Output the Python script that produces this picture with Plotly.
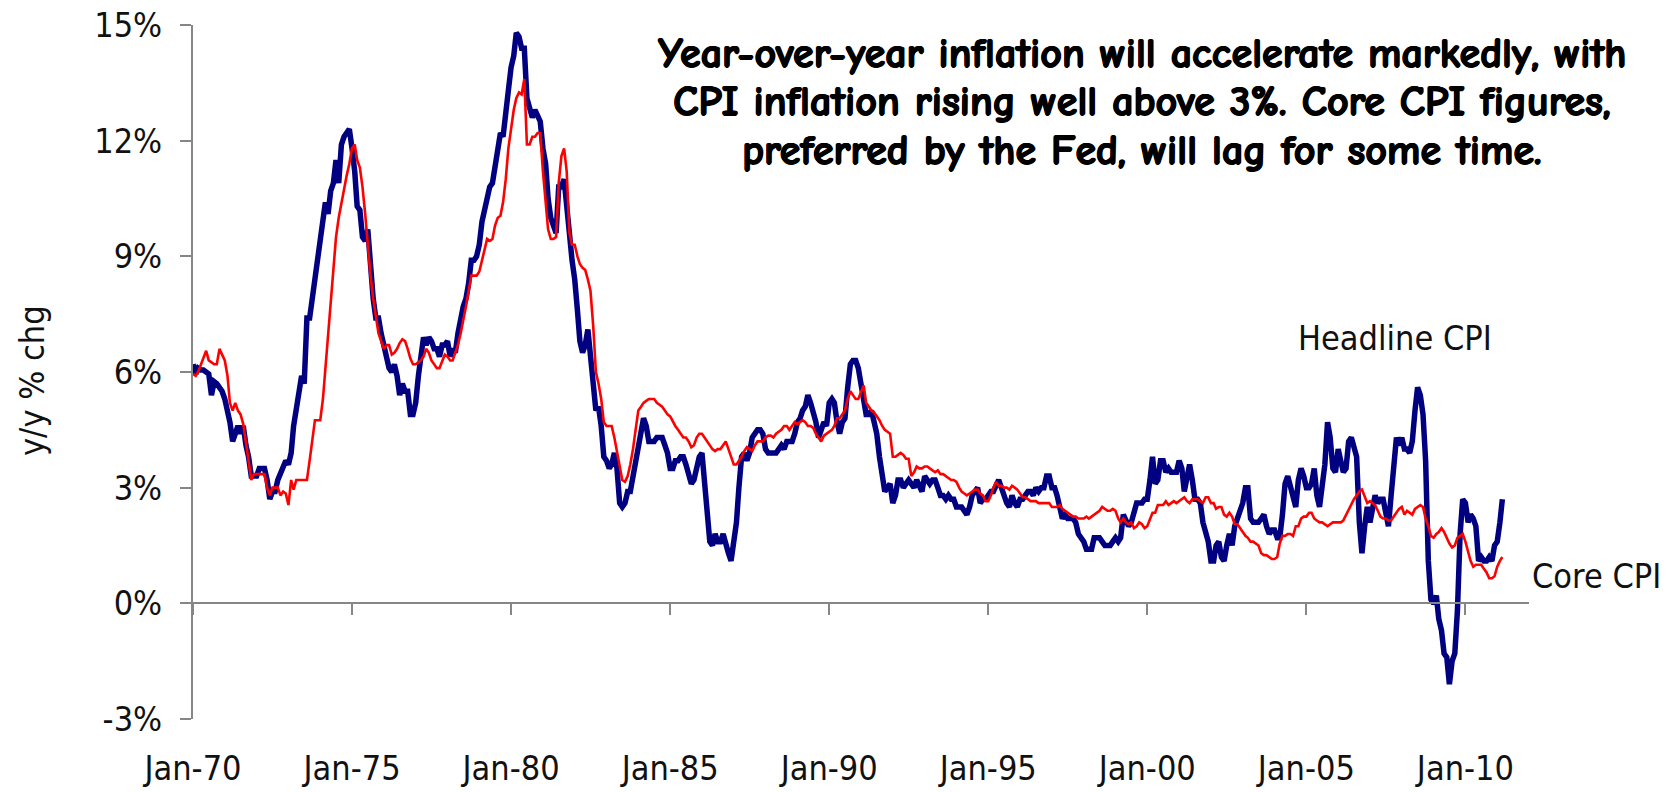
import pandas as pd
import plotly.graph_objects as go

# Monthly year-over-year % change, Jan 1970 - Mar 2011
headline_cpi = [
    6.2, 5.95, 6.1, 6.05, 6.05, 6.0, 5.95, 5.4, 5.75, 5.7, 5.6, 5.5,      # 1970
    5.3, 5.0, 4.7, 4.2, 4.4, 4.6, 4.4, 4.6, 4.1, 3.8, 3.3, 3.3,           # 1971
    3.3, 3.5, 3.5, 3.5, 3.2, 2.7, 2.9, 2.9, 3.2, 3.4, 3.6, 3.7,           # 1972
    3.6, 3.9, 4.6, 5.1, 5.5, 5.9, 5.7, 7.4, 7.4, 7.9, 8.3, 8.7,           # 1973
    9.4, 10.0, 10.4, 10.1, 10.7, 10.9, 11.5, 10.9, 11.9, 12.1, 12.2, 12.3,  # 1974
    11.8, 11.2, 10.3, 10.2, 9.5, 9.4, 9.7, 8.6, 7.9, 7.4, 7.4, 7.0,       # 1975
    6.7, 6.3, 6.1, 6.0, 6.2, 5.9, 5.4, 5.7, 5.5, 5.5, 4.9, 4.9,           # 1976
    5.2, 5.9, 6.4, 6.9, 6.7, 6.9, 6.8, 6.6, 6.6, 6.4, 6.7, 6.7,           # 1977
    6.8, 6.4, 6.6, 6.5, 7.0, 7.4, 7.7, 7.9, 8.3, 8.9, 8.9, 9.0,           # 1978
    9.3, 9.9, 10.2, 10.5, 10.8, 10.9, 11.3, 11.8, 12.2, 12.1, 12.6, 13.3,  # 1979
    13.9, 14.2, 14.8, 14.7, 14.4, 14.4, 13.1, 12.9, 12.6, 12.8, 12.6, 12.5,  # 1980
    11.8, 11.4, 10.5, 10.0, 9.8, 9.6, 10.8, 10.8, 11.0, 10.1, 9.6, 8.9,   # 1981
    8.4, 7.6, 6.8, 6.5, 6.7, 7.1, 6.4, 5.9, 5.0, 5.1, 4.6, 3.8,           # 1982
    3.7, 3.5, 3.6, 3.9, 3.5, 2.6, 2.5, 2.6, 2.9, 2.9, 3.3, 3.8,           # 1983
    4.2, 4.6, 4.8, 4.6, 4.2, 4.2, 4.2, 4.3, 4.3, 4.3, 4.1, 3.9,           # 1984
    3.5, 3.5, 3.7, 3.7, 3.8, 3.8, 3.6, 3.3, 3.1, 3.2, 3.5, 3.8,           # 1985
    3.9, 3.1, 2.2, 1.6, 1.5, 1.8, 1.6, 1.6, 1.8, 1.5, 1.3, 1.1,           # 1986
    1.5, 2.1, 3.0, 3.8, 3.9, 3.7, 3.9, 4.3, 4.4, 4.5, 4.5, 4.4,           # 1987
    4.0, 3.9, 3.9, 3.9, 3.9, 4.0, 4.1, 4.0, 4.2, 4.2, 4.2, 4.4,           # 1988
    4.7, 4.8, 5.0, 5.1, 5.4, 5.2, 5.0, 4.7, 4.3, 4.5, 4.7, 4.6,           # 1989
    5.2, 5.3, 5.2, 4.7, 4.4, 4.7, 4.8, 5.6, 6.2, 6.3, 6.3, 6.1,           # 1990
    5.7, 5.3, 4.9, 4.9, 5.0, 4.7, 4.4, 3.8, 3.4, 2.9, 3.0, 3.1,           # 1991
    2.6, 2.8, 3.2, 3.2, 3.0, 3.1, 3.2, 3.1, 3.0, 3.2, 3.0, 2.9,           # 1992
    3.3, 3.2, 3.1, 3.2, 3.2, 3.0, 2.8, 2.8, 2.7, 2.8, 2.7, 2.7,           # 1993
    2.5, 2.5, 2.5, 2.4, 2.3, 2.5, 2.8, 2.9, 3.0, 2.6, 2.7, 2.7,           # 1994
    2.8, 2.9, 2.9, 3.1, 3.2, 3.0, 2.8, 2.6, 2.5, 2.8, 2.6, 2.5,           # 1995
    2.7, 2.7, 2.8, 2.9, 2.9, 2.8, 3.0, 2.9, 3.0, 3.0, 3.3, 3.3,           # 1996
    3.0, 3.0, 2.8, 2.5, 2.2, 2.3, 2.2, 2.2, 2.2, 2.1, 1.8, 1.7,           # 1997
    1.6, 1.4, 1.4, 1.4, 1.7, 1.7, 1.7, 1.6, 1.5, 1.5, 1.5, 1.6,           # 1998
    1.7, 1.6, 1.7, 2.3, 2.1, 2.0, 2.1, 2.3, 2.6, 2.6, 2.6, 2.7,           # 1999
    2.7, 3.2, 3.8, 3.1, 3.2, 3.7, 3.7, 3.4, 3.5, 3.4, 3.4, 3.4,           # 2000
    3.7, 3.5, 2.9, 3.3, 3.6, 3.2, 2.7, 2.7, 2.6, 2.1, 1.9, 1.6,           # 2001
    1.1, 1.1, 1.5, 1.6, 1.2, 1.1, 1.5, 1.8, 1.5, 2.0, 2.2, 2.4,           # 2002
    2.6, 3.0, 3.0, 2.2, 2.1, 2.1, 2.1, 2.2, 2.3, 2.0, 1.8, 1.9,           # 2003
    1.9, 1.7, 1.7, 2.3, 3.1, 3.3, 3.0, 2.7, 2.5, 3.2, 3.5, 3.3,           # 2004
    3.0, 3.0, 3.1, 3.5, 2.8, 2.5, 3.2, 3.6, 4.7, 4.3, 3.5, 3.4,           # 2005
    4.0, 3.6, 3.4, 3.5, 4.2, 4.3, 4.1, 3.8, 2.1, 1.3, 2.0, 2.5,           # 2006
    2.1, 2.4, 2.8, 2.6, 2.7, 2.7, 2.4, 2.0, 2.8, 3.5, 4.3, 4.1,           # 2007
    4.3, 4.0, 4.0, 3.9, 4.2, 5.0, 5.6, 5.4, 4.9, 3.7, 1.1, 0.1,           # 2008
    0.0, 0.2, -0.4, -0.7, -1.3, -1.4, -2.1, -1.5, -1.3, -0.2, 1.8, 2.7,   # 2009
    2.6, 2.1, 2.3, 2.2, 2.0, 1.1, 1.2, 1.1, 1.1, 1.2, 1.1, 1.5,           # 2010
    1.6, 2.1, 2.7,                                                        # 2011
]

core_cpi = [
    5.95, 5.9, 6.0, 6.2, 6.4, 6.55, 6.3, 6.25, 6.2, 6.2, 6.6, 6.45,       # 1970
    6.3, 5.9, 5.2, 5.0, 5.2, 5.0, 4.9, 4.65, 4.1, 3.7, 3.2, 3.35,         # 1971
    3.35, 3.35, 3.35, 3.35, 3.0, 2.8, 3.0, 3.0, 3.0, 2.8, 2.9, 2.85,      # 1972
    2.55, 3.2, 2.95, 3.2, 3.2, 3.2, 3.2, 3.2, 3.7, 4.2, 4.75, 4.75,       # 1973
    4.75, 5.3, 6.1, 7.0, 7.8, 8.7, 9.5, 10.0, 10.4, 10.8, 11.1, 11.4,     # 1974
    11.8, 11.9, 11.5, 11.3, 10.8, 10.1, 9.3, 8.5, 7.9, 7.5, 7.0, 6.8,     # 1975
    6.6, 6.7, 6.7, 6.45, 6.5, 6.6, 6.75, 6.85, 6.8, 6.6, 6.35, 6.2,       # 1976
    6.2, 6.25, 6.3, 6.4, 6.6, 6.5, 6.3, 6.2, 6.1, 6.1, 6.3, 6.45,         # 1977
    6.4, 6.3, 6.3, 6.5, 6.7, 7.0, 7.4, 7.7, 8.1, 8.5, 8.5, 8.5,           # 1978
    8.6, 8.9, 9.2, 9.45, 9.4, 9.45, 9.8, 10.0, 10.05, 10.4, 11.0, 11.8,   # 1979
    12.3, 12.8, 13.1, 13.25, 13.2, 13.6, 11.9, 11.9, 12.1, 12.1, 12.2, 12.2,  # 1980
    11.2, 10.5, 9.7, 9.45, 9.45, 9.5, 10.9, 11.6, 11.8, 11.2, 9.6, 9.3,   # 1981
    9.3, 9.0, 8.8, 8.7, 8.65, 8.4, 8.1, 7.2, 6.0, 5.7, 5.3, 4.7,          # 1982
    4.6, 4.6, 4.6, 4.3, 3.9, 3.5, 3.2, 3.15, 3.3, 3.6, 4.0, 4.5,          # 1983
    5.0, 5.1, 5.2, 5.25, 5.3, 5.3, 5.3, 5.2, 5.15, 5.1, 5.0, 4.9,         # 1984
    4.85, 4.7, 4.6, 4.5, 4.4, 4.3, 4.3, 4.2, 4.05, 4.1, 4.3, 4.4,         # 1985
    4.4, 4.3, 4.2, 4.1, 4.0, 3.95, 4.0, 4.0, 4.1, 4.2, 4.0, 3.8,          # 1986
    3.6, 3.6, 3.7, 3.8, 3.95, 4.05, 4.0, 3.95, 4.1, 4.2, 4.2, 4.2,        # 1987
    4.3, 4.35, 4.35, 4.3, 4.4, 4.45, 4.5, 4.6, 4.6, 4.5, 4.6, 4.7,        # 1988
    4.65, 4.7, 4.75, 4.7, 4.6, 4.6, 4.55, 4.4, 4.3, 4.2, 4.35, 4.4,       # 1989
    4.45, 4.5, 4.6, 4.8, 4.8, 4.9, 5.0, 5.3, 5.5, 5.4, 5.3, 5.3,          # 1990
    5.5, 5.65, 5.2, 5.1, 5.0, 4.95, 4.85, 4.75, 4.6, 4.5, 4.45, 4.4,      # 1991
    3.8, 3.8, 3.85, 3.9, 3.85, 3.75, 3.75, 3.3, 3.4, 3.55, 3.5, 3.5,      # 1992
    3.55, 3.55, 3.5, 3.45, 3.4, 3.45, 3.35, 3.35, 3.3, 3.25, 3.2, 3.2,    # 1993
    3.15, 3.0, 2.9, 2.85, 2.8, 2.85, 2.9, 2.95, 2.95, 2.85, 2.8, 2.65,    # 1994
    2.65, 2.8, 3.0, 3.15, 3.05, 3.05, 3.0, 3.0, 2.95, 3.05, 3.0, 2.95,    # 1995
    2.85, 2.75, 2.75, 2.7, 2.65, 2.65, 2.65, 2.6, 2.6, 2.6, 2.6, 2.6,     # 1996
    2.5, 2.5, 2.5, 2.55, 2.45, 2.4, 2.35, 2.3, 2.25, 2.25, 2.2, 2.2,      # 1997
    2.2, 2.25, 2.2, 2.25, 2.3, 2.35, 2.4, 2.5, 2.45, 2.4, 2.4, 2.45,      # 1998
    2.4, 2.2, 2.1, 2.2, 2.1, 2.05, 2.1, 1.95, 2.0, 2.1, 2.05, 1.95,       # 1999
    2.0, 2.2, 2.35, 2.35, 2.55, 2.55, 2.55, 2.65, 2.55, 2.6, 2.65, 2.6,   # 2000
    2.65, 2.7, 2.75, 2.65, 2.6, 2.7, 2.7, 2.7, 2.65, 2.6, 2.75, 2.75,     # 2001
    2.6, 2.6, 2.45, 2.5, 2.5, 2.3, 2.25, 2.35, 2.25, 2.05, 2.05, 1.95,    # 2002
    1.85, 1.75, 1.7, 1.6, 1.6, 1.55, 1.5, 1.3, 1.25, 1.25, 1.2, 1.15,     # 2003
    1.15, 1.2, 1.55, 1.75, 1.75, 1.8, 1.8, 1.75, 2.0, 2.0, 2.2, 2.25,     # 2004
    2.25, 2.35, 2.35, 2.2, 2.15, 2.1, 2.1, 2.05, 2.0, 2.05, 2.1, 2.1,     # 2005
    2.1, 2.1, 2.15, 2.3, 2.45, 2.6, 2.7, 2.8, 2.9, 2.95, 2.75, 2.6,       # 2006
    2.65, 2.6, 2.55, 2.4, 2.25, 2.2, 2.2, 2.15, 2.15, 2.25, 2.35, 2.45,   # 2007
    2.5, 2.3, 2.4, 2.35, 2.3, 2.45, 2.5, 2.55, 2.5, 2.2, 2.0, 1.75,       # 2008
    1.7, 1.8, 1.85, 1.95, 1.85, 1.7, 1.55, 1.45, 1.5, 1.7, 1.75, 1.8,     # 2009
    1.6, 1.3, 1.1, 0.95, 1.0, 1.0, 1.0, 0.9, 0.8, 0.65, 0.65, 0.7,        # 2010
    0.95, 1.1, 1.2,                                                       # 2011
]

months = pd.date_range("1970-01-01", periods=len(headline_cpi), freq="MS")

y_ticks = [-3, 0, 3, 6, 9, 12, 15]
y_tick_text = ["-3%", "0%", "3%", "6%", "9%", "12%", "15%"]

note_lines = [
    "Year-over-year inflation will accelerate markedly, with",
    "CPI inflation rising well above 3%. Core CPI figures,",
    "preferred by the Fed, will lag for some time.",
]

NARROW = "Liberation Sans Narrow, Arial Narrow, DejaVu Sans Condensed, sans-serif"
NOTE_FONT = "Comic Sans MS, Comic Neue, Open Sans, sans-serif"
AXIS_GREY = "#868686"
TEXT = "#111111"

W, H = 1677, 792
M_L, M_R, M_T, M_B = 193, 148, 25, 73
PW = W - M_L - M_R
PH = H - M_T - M_B


def px_x(px):
    return (px - M_L) / PW


def px_y(py):
    return (H - M_B - py) / PH


fig = go.Figure()
fig.add_trace(go.Scatter(
    x=months, y=headline_cpi, mode="lines", name="Headline CPI",
    line=dict(color="#000080", width=5.5), xaxis="x", yaxis="y",
    hoverinfo="skip",
))
fig.add_trace(go.Scatter(
    x=months, y=core_cpi, mode="lines", name="Core CPI",
    line=dict(color="#FF0000", width=2.6), xaxis="x2", yaxis="y",
    hoverinfo="skip",
))

x_range = ["1970-01-01", "2012-01-01"]

fig.update_layout(
    width=W, height=H,
    margin=dict(l=M_L, r=M_R, t=M_T, b=M_B, autoexpand=False),
    paper_bgcolor="white", plot_bgcolor="white",
    showlegend=False,
    xaxis=dict(
        type="date", range=x_range, tick0="1970-01-01", dtick="M60",
        tickformat="%b-%y", showgrid=False, zeroline=False, showline=False,
        ticks="outside", ticklen=19, tickcolor="rgba(0,0,0,0)",
        tickfont=dict(family=NARROW, size=34, color=TEXT),
    ),
    xaxis2=dict(
        type="date", range=x_range, tick0="1970-01-01", dtick="M60",
        overlaying="x", anchor="free", position=3 / 18, matches="x",
        showgrid=False, zeroline=False, showline=True,
        linecolor=AXIS_GREY, linewidth=2,
        ticks="outside", ticklen=11, tickwidth=2, tickcolor=AXIS_GREY,
        showticklabels=False,
    ),
    yaxis=dict(
        range=[-3, 15], tickvals=y_ticks, ticktext=y_tick_text,
        showgrid=False, zeroline=False, showline=True,
        linecolor=AXIS_GREY, linewidth=2,
        ticks="outside", ticklen=11, tickwidth=2, tickcolor=AXIS_GREY,
        ticklabelstandoff=11,
        tickfont=dict(family=NARROW, size=34, color=TEXT),
    ),
)

annotations = [
    dict(text="y/y % chg", textangle=-90, xref="paper", yref="paper",
         x=px_x(32), y=px_y(381), xanchor="center", yanchor="middle",
         showarrow=False, font=dict(family=NARROW, size=34, color=TEXT)),
    dict(text="Headline CPI", xref="paper", yref="paper",
         x=px_x(1296), y=px_y(338), xanchor="left", yanchor="middle",
         showarrow=False, font=dict(family=NARROW, size=34, color=TEXT)),
    dict(text="Core CPI", xref="paper", yref="paper",
         x=px_x(1530), y=px_y(576), xanchor="left", yanchor="middle",
         showarrow=False, font=dict(family=NARROW, size=34, color=TEXT)),
]
# heavy comment text: thicken strokes with a thin same-colour shadow
heavy = "0.9px 0 0 black, -0.6px 0 0 black, 0 0.6px 0 black"
for line, cy in zip(note_lines, [54, 102, 150]):
    annotations.append(dict(
        text="<b>" + line + "</b>", xref="paper", yref="paper",
        x=px_x(1142), y=px_y(cy), xanchor="center", yanchor="middle",
        showarrow=False,
        font=dict(family=NOTE_FONT, size=42, color="black", weight="bold",
                  shadow=heavy),
    ))
fig.update_layout(annotations=annotations)

fig.write_html("out.html")
